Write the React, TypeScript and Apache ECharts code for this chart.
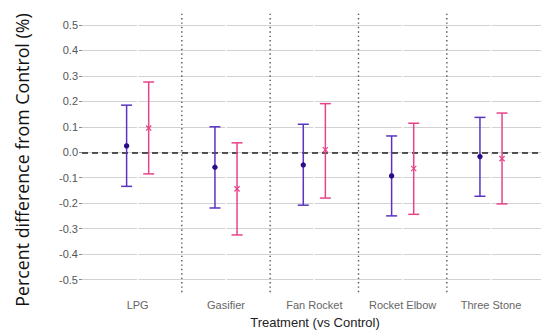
import React, { useEffect, useRef } from "react";
import * as echarts from "echarts";

const categories = ["LPG", "Gasifier", "Fan Rocket", "Rocket Elbow", "Three Stone"];
const blueMean = [0.025, -0.059, -0.05, -0.093, -0.017];
const blueLow = [-0.134, -0.219, -0.208, -0.25, -0.173];
const blueHigh = [0.185, 0.1, 0.11, 0.064, 0.137];
const pinkMean = [0.095, -0.144, 0.01, -0.064, -0.025];
const pinkLow = [-0.085, -0.325, -0.18, -0.244, -0.203];
const pinkHigh = [0.276, 0.037, 0.191, 0.114, 0.154];
const separators = [1.5, 2.5, 3.5, 4.5];
const catPositions = [1, 2, 3, 4, 5];
const yMin = -0.5;
const yMax = 0.5;
const yStep = 0.1;
const panelMin = -0.55;
const panelMax = 0.55;

const BLUE_LINE = "#5a33c2";
const BLUE_PT = "#2a0c88";
const PINK = "#e6438a";

function errorSeries(
  name: string,
  mean: number[],
  low: number[],
  high: number[],
  offset: number,
  lineColor: string,
  markerColor: string,
  markerKind: "dot" | "x"
) {
  return {
    type: "custom",
    name,
    clip: false,
    z: 5,
    data: categories.map((_, i) => [i + 1, mean[i], low[i], high[i]]),
    encode: { x: 0, y: [1, 2, 3] },
    renderItem: (_params: any, api: any) => {
      const x = api.value(0) + offset;
      const pm = api.coord([x, api.value(1)]);
      const pl = api.coord([x, api.value(2)]);
      const ph = api.coord([x, api.value(3)]);
      const cap = 5.5;
      const ls = { stroke: lineColor, lineWidth: 1.5 };
      const children: any[] = [
        { type: "line", shape: { x1: pl[0], y1: pl[1], x2: ph[0], y2: ph[1] }, style: ls },
        { type: "line", shape: { x1: pl[0] - cap, y1: pl[1], x2: pl[0] + cap, y2: pl[1] }, style: ls },
        { type: "line", shape: { x1: ph[0] - cap, y1: ph[1], x2: ph[0] + cap, y2: ph[1] }, style: ls },
      ];
      if (markerKind === "dot") {
        children.push({ type: "circle", shape: { cx: pm[0], cy: pm[1], r: 2.7 }, style: { fill: markerColor } });
      } else {
        const s = 2.6;
        const ms = { stroke: markerColor, lineWidth: 1.2 };
        children.push(
          { type: "line", shape: { x1: pm[0] - s, y1: pm[1] - s, x2: pm[0] + s, y2: pm[1] + s }, style: ms },
          { type: "line", shape: { x1: pm[0] - s, y1: pm[1] + s, x2: pm[0] + s, y2: pm[1] - s }, style: ms }
        );
      }
      return { type: "group", children };
    },
  };
}

export default function App() {
  const ref = useRef<HTMLDivElement>(null);
  useEffect(() => {
    if (!ref.current) return;
    const chart = echarts.init(ref.current, undefined, { renderer: "svg" });
    chart.setOption({
      animation: false,
      backgroundColor: "#ffffff",
      grid: { left: 82, right: 0, top: 25, bottom: 54.5 },
      xAxis: {
        type: "value",
        min: 0.37,
        max: 5.566,
        offset: 13.5,
        axisLine: { show: false },
        splitLine: { show: false },
        axisTick: { show: true, customValues: catPositions, length: 3, lineStyle: { color: "#888888", width: 1 } },
        axisLabel: {
          customValues: catPositions,
          formatter: (v: number) => categories[Math.round(v) - 1] ?? "",
          color: "#666666",
          fontSize: 11,
          fontFamily: "Liberation Sans",
          margin: 6,
        },
      },
      yAxis: {
        type: "value",
        min: yMin,
        max: yMax,
        interval: yStep,
        axisLine: { show: false },
        axisTick: { show: true, length: 3, lineStyle: { color: "#888888" } },
        axisLabel: {
          formatter: (v: number) => (Math.abs(v) < 1e-9 ? "0.0" : v.toFixed(1)),
          color: "#555555",
          fontSize: 11,
          fontFamily: "Liberation Sans",
          margin: 4,
        },
        splitLine: { lineStyle: { color: "#d2d2d2", width: 1.2 } },
      },
      graphic: [
        {
          type: "text",
          x: 21.5,
          y: 160,
          rotation: Math.PI / 2,
          style: {
            text: "Percent difference from Control (%)",
            fontSize: 17.8,
            fontFamily: "Open Sans",
            fill: "#111111",
            align: "center",
            verticalAlign: "middle",
          },
        },
        {
          type: "text",
          x: 315,
          y: 322,
          style: {
            text: "Treatment (vs Control)",
            fontSize: 13,
            fontFamily: "Liberation Sans",
            fill: "#222222",
            align: "center",
            verticalAlign: "middle",
          },
        },
      ],
      series: [
        {
          type: "custom",
          name: "centers",
          clip: false,
          z: 1,
          silent: true,
          data: catPositions.map((v) => [v]),
          encode: { x: 0 },
          renderItem: (_p: any, api: any) => {
            const a = api.coord([api.value(0), panelMin]);
            const b = api.coord([api.value(0), panelMax]);
            return {
              type: "line",
              shape: { x1: a[0], y1: a[1], x2: b[0], y2: b[1] },
              style: { stroke: "#ffffff", lineWidth: 1.5 },
            };
          },
        },
        {
          type: "custom",
          name: "separators",
          clip: false,
          z: 2,
          silent: true,
          data: separators.map((v) => [v]),
          encode: { x: 0 },
          renderItem: (_p: any, api: any) => {
            const a = api.coord([api.value(0), panelMin]);
            const b = api.coord([api.value(0), panelMax]);
            return {
              type: "line",
              shape: { x1: a[0], y1: a[1], x2: b[0], y2: b[1] },
              style: { stroke: "#555555", lineWidth: 1.4, lineDash: [1.4, 3] },
            };
          },
          markLine: {
            silent: true,
            symbol: "none",
            label: { show: false },
            lineStyle: { type: [6, 4], color: "#222222", width: 1.5 },
            data: [{ yAxis: 0 }],
          },
        },
        errorSeries("Blue", blueMean, blueLow, blueHigh, -0.125, BLUE_LINE, BLUE_PT, "dot"),
        errorSeries("Pink", pinkMean, pinkLow, pinkHigh, 0.125, PINK, PINK, "x"),
      ],
    });
    return () => chart.dispose();
  }, []);
  return (
    <div
      ref={ref}
      style={{ width: 541, height: 334, position: "fixed", left: 0, top: 0, background: "#fff" }}
    />
  );
}
